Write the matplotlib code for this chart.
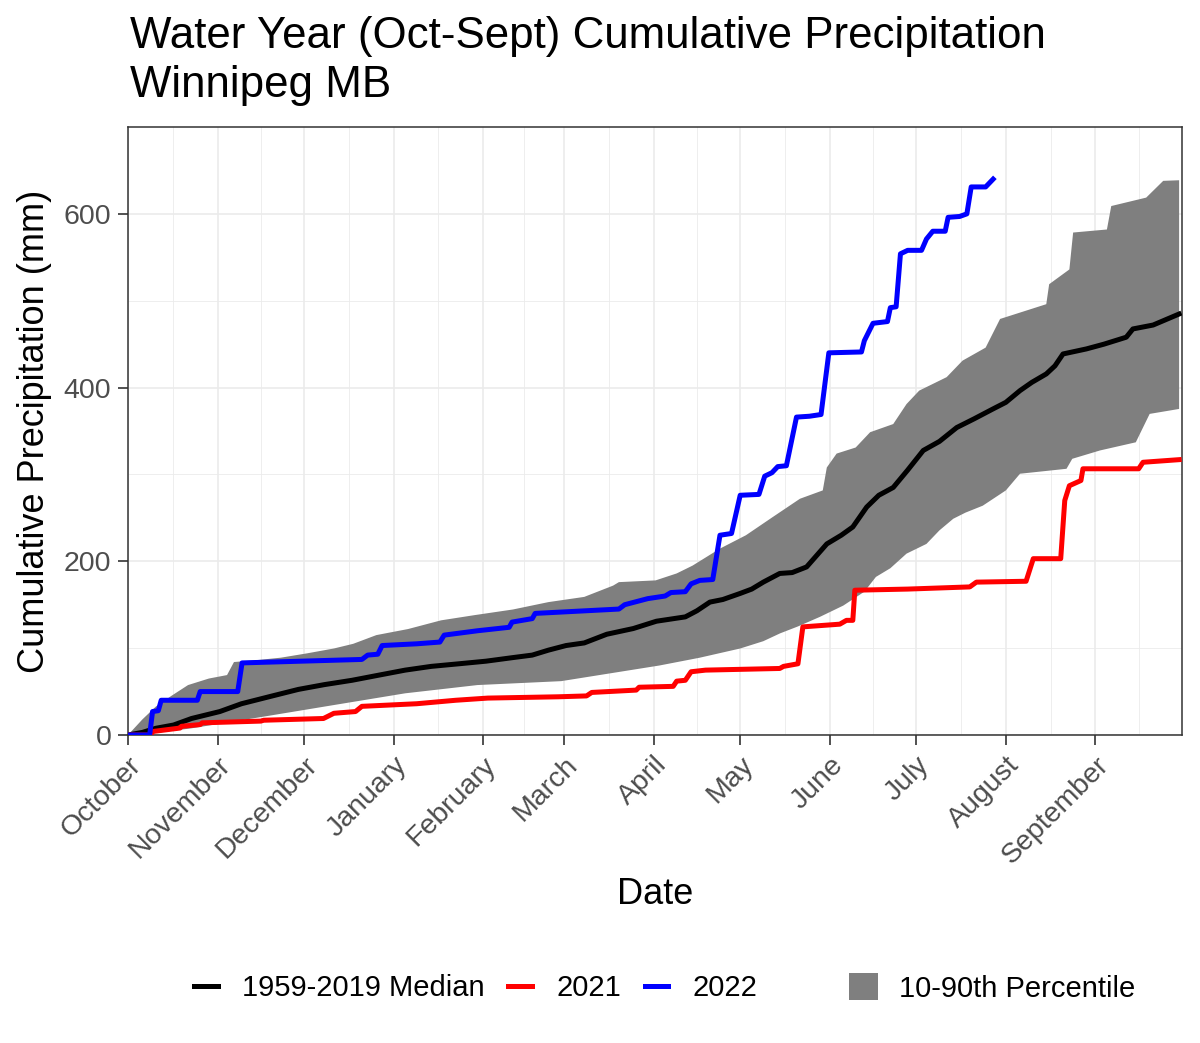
import matplotlib
matplotlib.use('Agg')
import matplotlib.pyplot as plt
from matplotlib.lines import Line2D
from matplotlib.patches import Patch

plt.rcParams['font.family'] = ['Liberation Sans', 'DejaVu Sans']

# days counted from Oct 1 of the water year
months = ['October', 'November', 'December', 'January', 'February', 'March',
          'April', 'May', 'June', 'July', 'August', 'September']
month_start = [0, 31, 61, 92, 123, 151, 182, 212, 243, 273, 304, 335]

# 1959-2019 median (day, mm)
med_day = [0, 5, 9.6, 15.8, 22, 31.8, 39.3, 50, 59, 68, 77.6, 87, 96, 105, 114.6, 124, 133, 140,
           145.6, 151.7, 158, 165.8, 175, 183, 193, 197, 201.5, 206, 212, 216, 220, 225.7, 230,
           235, 242, 247, 251, 255.8, 260, 265, 270, 275.4, 281, 287, 293, 299.6, 304, 308.9,
           313, 318, 321, 323.8, 331.9, 338, 345.7, 348, 355, 364]
med_mm = [0, 3, 7.7, 11.5, 19, 27, 36, 45, 52.5, 58, 63, 69, 74.7, 79, 82, 85, 89, 92,
          97.7, 103, 106, 116, 122.6, 131, 136, 143, 153, 156, 163, 168, 176, 186, 187,
          193.5, 220, 230, 239.5, 262.4, 276, 285, 305, 327.6, 338, 354, 364, 375.5, 383, 396.5,
          406, 415.7, 425, 438.7, 444.5, 450, 458, 467.5, 472, 484.7]

# 2021 water year
y2021_day = [0, 8, 8.5, 18, 18.5, 25, 25.7, 46, 47, 67.7, 71.3, 78.8, 81, 100, 113.5, 124.6,
             149, 158.8, 160.6, 176, 177, 188.8, 190, 193, 195, 200, 225.7, 227, 232, 233.7,
             246.5, 248.8, 251, 251.7, 270, 291.5, 293.8, 311, 313.5, 323, 324.4, 326, 330,
             330.7, 350, 351.5, 364]
y2021_mm = [0, 0, 4, 8, 10, 12, 14, 16, 17, 19, 25, 27, 33, 36, 40, 42.5,
            44, 45, 49, 51.7, 55, 56, 62, 63, 72.8, 74.7, 76.6, 79, 82, 124.5,
            127.6, 132, 132, 166.7, 168, 170.5, 176, 177, 203, 203, 270, 287, 293,
            306.5, 306.5, 314, 317]

# 2022 water year
y2022_day = [0, 7.5, 8.5, 10.5, 11.5, 24, 25, 38, 39.5, 60, 81, 83, 86.5, 88, 100, 108, 109.5,
             121, 132, 133, 140, 141, 170, 172, 180, 186, 188, 193, 195, 198, 202.5, 205, 209,
             212, 218.5, 220.5, 223, 225, 228, 231.5, 236, 240, 242.7, 254, 255, 258, 263, 264,
             266, 267.5, 270, 274.8, 276.5, 278.7, 283, 284, 288, 290.5, 292, 297, 299.6]
y2022_mm = [0, 0, 27, 28, 40, 40, 50, 50, 83, 85, 87, 92, 93, 103, 105, 107, 115,
            120, 124, 130, 134, 140, 145, 150, 157, 160, 164, 165, 174, 178, 179, 230, 232,
            276, 277, 298, 302, 309, 310, 366, 367, 369, 440, 441, 454, 474, 476, 492,
            493, 554, 558, 558, 571, 580, 580, 596, 597, 600, 631, 631, 640]

# 10-90th percentile band
hi_day = [0, 5, 9.6, 15, 20.8, 28, 34.3, 36.7, 44, 52.9, 62, 71.3, 78, 86, 97, 108.4, 120, 133.3,
          145.6, 158, 168, 170, 182.7, 190, 195.5, 205, 214, 223.3, 232.7, 240.6, 242, 245.4,
          252, 257, 265, 269.6, 274, 283.5, 289, 297, 302, 318, 319, 326, 327.3, 339, 340.5,
          352.6, 358.5, 364]
hi_mm = [0, 18, 32.6, 45, 57.5, 65, 69, 84, 86, 89, 94, 99.6, 105, 115, 122, 132, 138, 144.5,
         153, 159, 172, 176, 178, 186, 195, 214.6, 230, 251, 272, 281.6, 308, 324,
         331, 348.6, 358, 381, 396.5, 412, 431, 446, 479, 496, 519, 536, 578.5, 582, 609,
         618.7, 638, 638.7]
lo_day = [0, 4, 22, 46.7, 71.3, 96, 121, 150, 167, 184, 198, 212, 220, 225.8, 232, 239.6, 247.7,
          255, 259, 264, 269.6, 276.5, 281, 285.8, 290, 296, 304, 308.9, 325, 327, 336.6, 349,
          353.8, 364]
lo_mm = [0, 0, 7.7, 21, 34.5, 48, 57.5, 62, 71, 80, 89, 99.6, 108, 117, 125, 136, 149,
         165, 182, 192, 208.8, 220, 235.6, 249, 256, 264, 281.6, 300.8, 306.5, 318, 327.6, 337,
         369.7, 375.4]

W, H = 1200, 1043
LW = 3.6
fig = plt.figure(figsize=(W / 100, H / 100), dpi=100)
ax = fig.add_axes([128 / W, 1 - 735 / H, (1182 - 128) / W, (735 - 127) / H])

ax.fill(hi_day + lo_day[::-1], hi_mm + lo_mm[::-1], color='#7F7F7F', lw=0, zorder=2)
ax.plot(med_day, med_mm, color='black', lw=LW, zorder=3)
ax.plot(y2021_day, y2021_mm, color='#FF0000', lw=LW, zorder=3)
ax.plot(y2022_day, y2022_mm, color='#0000FF', lw=LW, zorder=3)

ax.set_xlim(0, 365)
ax.set_ylim(0, 700)

ax.set_xticks(month_start)
ax.set_xticklabels(months, rotation=45, ha='right', va='top', rotation_mode='anchor')
# minor grid halfway between months
minor_x = [(a + b) / 2 for a, b in zip(month_start, month_start[1:] + [365])]
ax.set_xticks(minor_x, minor=True)
ax.set_yticks([0, 200, 400, 600])
ax.set_yticks([100, 300, 500], minor=True)

ax.tick_params(which='major', length=7, width=1.2, color='#333333', labelsize=20.5,
               labelcolor='#4D4D4D', pad=5)
ax.tick_params(which='minor', length=0)
ax.grid(which='major', color='#EBEBEB', lw=1.2)
ax.grid(which='minor', color='#EBEBEB', lw=0.6)
ax.set_axisbelow(True)
for s in ax.spines.values():
    s.set_color('#333333')
    s.set_linewidth(1.1)

fig.text(130 / W, 1 - 48 / H, 'Water Year (Oct-Sept) Cumulative Precipitation',
         fontsize=31.6, va='baseline', ha='left')
fig.text(130 / W, 1 - 97 / H, 'Winnipeg MB', fontsize=31.6, va='baseline', ha='left')
fig.text(655 / W, 1 - 895 / H, 'Date', fontsize=26, ha='center', va='center')
fig.text(35 / W, 1 - 431 / H, 'Cumulative Precipitation (mm)', fontsize=26,
         rotation=90, ha='center', va='center')

line_handles = [Line2D([], [], color=c, lw=LW) for c in ['black', '#FF0000', '#0000FF']]
fig.legend(line_handles, ['1959-2019 Median', '2021', '2022'], loc='center',
           bbox_to_anchor=(476 / W, 1 - 988 / H), ncol=3, frameon=False, fontsize=21,
           handlelength=0.8, handletextpad=0.85, columnspacing=0.8)
fig.legend([Patch(facecolor='#7F7F7F')], ['10-90th Percentile'], loc='center',
           bbox_to_anchor=(992 / W, 1 - 988 / H), frameon=False, fontsize=21,
           handlelength=1.0, handleheight=1.0, handletextpad=0.7)

fig.savefig('out.png', dpi=100)
